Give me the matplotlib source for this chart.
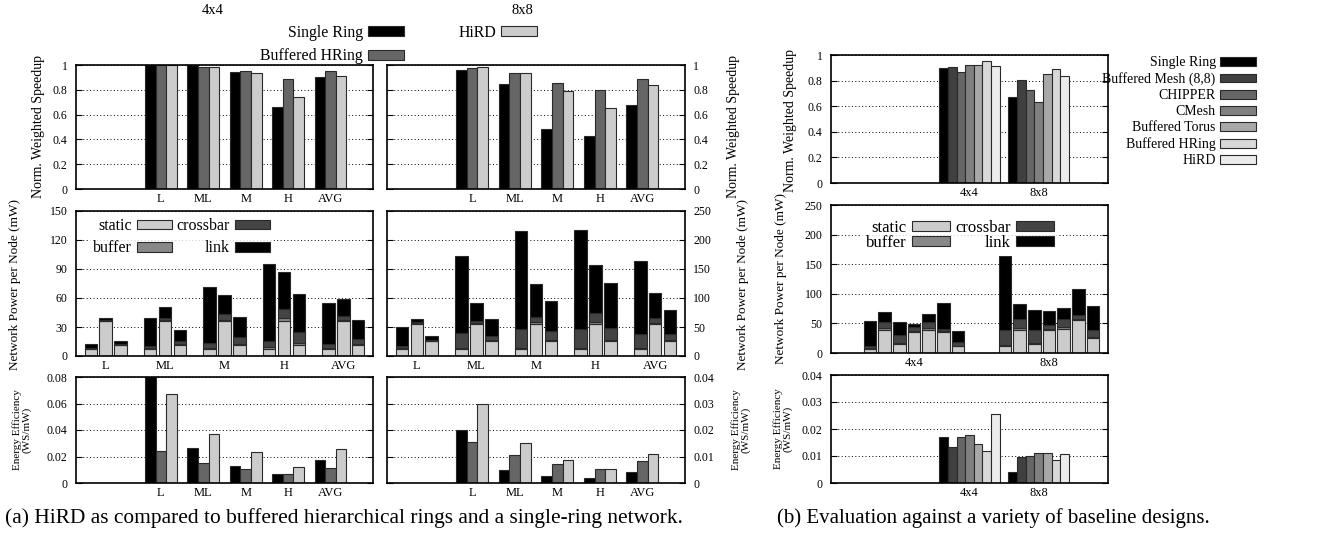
import matplotlib
matplotlib.use('Agg')
import matplotlib.pyplot as plt
from matplotlib.patches import Patch
from matplotlib.ticker import FuncFormatter, MultipleLocator
import numpy as np

plt.rcParams['font.family'] = ['Liberation Serif', 'DejaVu Serif']

# ---------------- data ----------------
workloads = ['L', 'ML', 'M', 'H', 'AVG']
designs_a = ['Single Ring', 'Buffered HRing', 'HiRD']
colors_a = ['#000000', '#666666', '#cccccc']

ws_4x4_single = [1.0, 1.0, 0.946, 0.66, 0.906]
ws_4x4_bhring = [1.0, 0.981, 0.954, 0.885, 0.954]
ws_4x4_hird = [1.0, 0.981, 0.933, 0.74, 0.911]
ws_8x8_single = [0.96, 0.845, 0.483, 0.429, 0.678]
ws_8x8_bhring = [0.976, 0.933, 0.853, 0.799, 0.89]
ws_8x8_hird = [0.981, 0.933, 0.794, 0.651, 0.839]

components = ['static', 'buffer', 'crossbar', 'link']
comp_colors = ['#cccccc', '#888888', '#444444', '#000000']

# power 4x4 (static, buffer, crossbar, link) per workload
p4_single_static = [7.6, 7.6, 7.6, 7.6, 7.6]
p4_single_buffer = [0.3, 0.8, 1.0, 1.2, 1.0]
p4_single_xbar = [0.5, 1.5, 4.5, 6.8, 3.5]
p4_single_link = [4.4, 29.4, 57.9, 79.2, 42.4]
p4_bhring_static = [36, 36, 36, 36, 36]
p4_bhring_buffer = [0.5, 1.2, 1.5, 3.0, 1.5]
p4_bhring_xbar = [1.0, 2.4, 5.5, 10.0, 3.8]
p4_bhring_link = [1.8, 10.7, 19.8, 38.0, 18.0]
p4_hird_static = [11.4, 11.4, 11.4, 11.4, 11.4]
p4_hird_buffer = [0.3, 1.0, 1.2, 1.6, 1.2]
p4_hird_xbar = [0.5, 3.5, 7.0, 12.3, 5.0]
p4_hird_link = [3.0, 11.3, 20.7, 39.2, 19.3]

p8_single_static = [12, 12, 12, 12, 12]
p8_single_buffer = [1.0, 1.5, 1.5, 1.5, 1.5]
p8_single_xbar = [4.8, 26.7, 33.0, 33.0, 24.5]
p8_single_link = [31.6, 132.8, 169.0, 171.5, 126.0]
p8_bhring_static = [55, 55, 55, 55, 55]
p8_bhring_buffer = [1.5, 2.0, 3.0, 3.5, 2.5]
p8_bhring_xbar = [1.5, 4.0, 9.5, 15.0, 7.5]
p8_bhring_link = [5.8, 31.0, 56.0, 83.0, 43.5]
p8_hird_static = [25.5, 25.5, 25.5, 25.5, 25.5]
p8_hird_buffer = [0.5, 1.5, 1.5, 1.5, 1.5]
p8_hird_xbar = [1.5, 7.0, 16.0, 20.5, 11.5]
p8_hird_link = [7.0, 29.0, 52.0, 79.0, 41.0]

ee_4x4_single = [0.08, 0.02625, 0.013, 0.007, 0.017]
ee_4x4_bhring = [0.02425, 0.015, 0.0105, 0.00675, 0.0115]
ee_4x4_hird = [0.0675, 0.037, 0.0235, 0.012, 0.0255]
ee_8x8_single = [0.02, 0.005, 0.0025, 0.002, 0.00425]
ee_8x8_bhring = [0.0156, 0.0104, 0.007, 0.00525, 0.0084]
ee_8x8_hird = [0.03, 0.015, 0.00875, 0.00525, 0.0109]

# panel (b)
sizes_b = ['4x4', '8x8']
designs_b = ['Single Ring', 'Buffered Mesh (8,8)', 'CHIPPER', 'CMesh',
             'Buffered Torus', 'Buffered HRing', 'HiRD']
colors_b = ['#000000', '#404040', '#666666', '#808080', '#a8a8a8', '#d8d8d8', '#ececec']
ws_b_4x4 = [0.9, 0.906, 0.869, 0.924, 0.924, 0.953, 0.911]
ws_b_8x8 = [0.675, 0.806, 0.724, 0.633, 0.85, 0.887, 0.835]
pb4_static = [7.6, 38.4, 16.0, 35.5, 39.6, 35.0, 11.4]
pb4_buffer = [1.0, 3.0, 1.5, 2.5, 3.0, 1.5, 1.2]
pb4_xbar = [3.5, 11.0, 13.5, 5.5, 10.0, 3.5, 5.4]
pb4_link = [42.4, 17.0, 21.0, 6.2, 13.0, 44.6, 19.2]
pb8_static = [12.4, 39.6, 16.0, 38.4, 40.6, 55.0, 25.5]
pb8_buffer = [1.5, 3.0, 1.5, 2.5, 3.0, 2.5, 1.5]
pb8_xbar = [24.5, 15.5, 21.0, 6.0, 14.4, 7.0, 11.5]
pb8_link = [125.6, 24.3, 33.8, 24.1, 18.8, 44.0, 41.0]
ee_b_4x4 = [0.017, 0.0133, 0.0172, 0.0176, 0.0146, 0.0117, 0.0255]
ee_b_8x8 = [0.0042, 0.0098, 0.0101, 0.0111, 0.0112, 0.0085, 0.0108]

# ---------------- figure ----------------
W, H = 1325, 539
fig = plt.figure(figsize=(W / 100, H / 100), dpi=100)

def ax_px(x0, y0, x1, y1):
    return fig.add_axes([x0 / W, 1 - y1 / H, (x1 - x0) / W, (y1 - y0) / H])

EC = '#2a2a2a'
LW = 0.8

def gfmt(v, pos):
    return ('%g' % round(v, 6))

def style(ax, side, ymax, ystep, xpad=3):
    ax.set_ylim(0, ymax)
    ax.yaxis.set_major_locator(MultipleLocator(ystep))
    ax.yaxis.set_major_formatter(FuncFormatter(gfmt))
    ax.tick_params(axis='y', direction='in', length=4, width=0.8, left=True, right=True,
                   labelleft=(side == 'left'), labelright=(side == 'right'),
                   labelsize=8.5, pad=6)
    ax.tick_params(axis='x', length=0, labelsize=9, pad=xpad)
    for s in ax.spines.values():
        s.set_linewidth(1.2)
    ax.yaxis.grid(True, linestyle=(0, (1, 2.5)), color='black', lw=0.7)
    ax.set_axisbelow(True)

def grouped(ax, series, colors, positions, width, pitch):
    n = len(series)
    pos = np.asarray(positions, dtype=float)
    for j, (vals, c) in enumerate(zip(series, colors)):
        ax.bar(pos + (j - (n - 1) / 2) * pitch, vals, width, color=c,
               edgecolor=EC, linewidth=LW, zorder=2)

def stacked(ax, stacks, positions, width, pitch):
    n = len(stacks)
    pos = np.asarray(positions, dtype=float)
    for j, comps in enumerate(stacks):
        bottom = np.zeros(len(pos))
        for vals, c in zip(comps, comp_colors):
            v = np.asarray(vals, dtype=float)
            ax.bar(pos + (j - (n - 1) / 2) * pitch, v, width, bottom=bottom,
                   color=c, edgecolor=EC, linewidth=LW, zorder=2)
            bottom = bottom + v

def power_legend(ax, anchor, fs, spacing, hl):
    handles = [Patch(facecolor=c, edgecolor=EC, linewidth=LW) for c in comp_colors]
    leg = ax.legend(handles, components, ncol=2, markerfirst=False, loc='upper left',
                    bbox_to_anchor=anchor, bbox_transform=fig.transFigure,
                    fontsize=fs, handlelength=hl, handleheight=0.55,
                    handletextpad=0.3, columnspacing=0.3, labelspacing=spacing,
                    borderpad=0.25, borderaxespad=0, frameon=True, fancybox=False)
    leg.get_frame().set_facecolor('white')
    leg.get_frame().set_edgecolor('none')
    leg.set_zorder(5)

# ---- panel (a) ----
XA = [(76, 373), (387, 685)]
top_pos = np.arange(2, 7)
mid_pos = np.arange(0, 5)

ws_sets = [[ws_4x4_single, ws_4x4_bhring, ws_4x4_hird],
           [ws_8x8_single, ws_8x8_bhring, ws_8x8_hird]]
pw_sets = [[[p4_single_static, p4_single_buffer, p4_single_xbar, p4_single_link],
            [p4_bhring_static, p4_bhring_buffer, p4_bhring_xbar, p4_bhring_link],
            [p4_hird_static, p4_hird_buffer, p4_hird_xbar, p4_hird_link]],
           [[p8_single_static, p8_single_buffer, p8_single_xbar, p8_single_link],
            [p8_bhring_static, p8_bhring_buffer, p8_bhring_xbar, p8_bhring_link],
            [p8_hird_static, p8_hird_buffer, p8_hird_xbar, p8_hird_link]]]
ee_sets = [[ee_4x4_single, ee_4x4_bhring, ee_4x4_hird],
           [ee_8x8_single, ee_8x8_bhring, ee_8x8_hird]]
pw_max = [(150, 30), (250, 50)]
ee_max = [(0.08, 0.02), (0.04, 0.01)]

for k, (x0, x1) in enumerate(XA):
    side = 'left' if k == 0 else 'right'
    ax = ax_px(x0, 65, x1, 189)
    grouped(ax, ws_sets[k], colors_a, top_pos, 0.25, 0.25)
    ax.set_xlim(0, 7)
    ax.set_xticks(top_pos)
    ax.set_xticklabels(workloads)
    style(ax, side, 1.0, 0.2)

    ax = ax_px(x0, 211, x1, 356)
    stacked(ax, pw_sets[k], mid_pos, 0.21, 0.25)
    ax.set_xlim(-0.5, 4.5)
    ax.set_xticks(mid_pos)
    ax.set_xticklabels(workloads)
    style(ax, side, pw_max[k][0], pw_max[k][1])
    if k == 0:
        power_legend(ax, (89 / W, 1 - 214 / H), 11.5, 0.4, 2.2)

    ax = ax_px(x0, 377, x1, 483)
    grouped(ax, ee_sets[k], colors_a, top_pos, 0.25, 0.25)
    ax.set_xlim(0, 7)
    ax.set_xticks(top_pos)
    ax.set_xticklabels(workloads)
    style(ax, side, ee_max[k][0], ee_max[k][1])

fig.text(213 / W, 1 - 10 / H, '4x4', ha='center', va='center', fontsize=10.5)
fig.text(522 / W, 1 - 10 / H, '8x8', ha='center', va='center', fontsize=10.5)

handles_a = [Patch(facecolor=c, edgecolor=EC, linewidth=LW) for c in colors_a]
fig.legend(handles_a, designs_a, ncol=2, markerfirst=False, loc='upper right',
           bbox_to_anchor=(537 / W, 1 - 25 / H), fontsize=11.4, frameon=False,
           handlelength=2.3, handleheight=0.6, handletextpad=0.3,
           columnspacing=3.4, labelspacing=0.45, borderpad=0, borderaxespad=0)

ylab_kw = dict(rotation=90, ha='center', va='center')
fig.text(39 / W, 1 - 127 / H, 'Norm. Weighted Speedup', fontsize=10, **ylab_kw)
fig.text(15 / W, 1 - 284 / H, 'Network Power per Node (mW)', fontsize=9.5, **ylab_kw)
fig.text(22 / W, 1 - 430 / H, 'Energy Efficiency\n(WS/mW)', fontsize=8, linespacing=0.9, **ylab_kw)
fig.text(733 / W, 1 - 127 / H, 'Norm. Weighted Speedup', fontsize=10, **ylab_kw)
fig.text(743 / W, 1 - 284 / H, 'Network Power per Node (mW)', fontsize=9.5, **ylab_kw)
fig.text(741 / W, 1 - 430 / H, 'Energy Efficiency\n(WS/mW)', fontsize=8, linespacing=0.9, **ylab_kw)

fig.text(5 / W, 1 - 518 / H,
         '(a) HiRD as compared to buffered hierarchical rings and a single-ring network.',
         ha='left', va='center', fontsize=15.4)

# ---- panel (b) ----
bx0, bx1 = 831, 1108
ax = ax_px(bx0, 55, bx1, 183)
grouped(ax, [[a, b] for a, b in zip(ws_b_4x4, ws_b_8x8)], colors_b, [2, 3], 0.125, 0.125)
ax.set_xlim(0, 4)
ax.set_xticks([2, 3])
ax.set_xticklabels(sizes_b)
style(ax, 'left', 1.0, 0.2)

ax = ax_px(bx0, 205, bx1, 353)
stacks_b = [[[pb4_static[j], pb8_static[j]], [pb4_buffer[j], pb8_buffer[j]],
             [pb4_xbar[j], pb8_xbar[j]], [pb4_link[j], pb8_link[j]]] for j in range(7)]
stacked(ax, stacks_b, [0, 1], 0.093, 0.109)
ax.set_xlim(-0.615, 1.437)
ax.set_xticks([0, 1])
ax.set_xticklabels(sizes_b)
style(ax, 'left', 250, 50)
power_legend(ax, (862 / W, 1 - 216 / H), 12, -0.05, 2.3)

ax = ax_px(bx0, 375, bx1, 483)
grouped(ax, [[a, b] for a, b in zip(ee_b_4x4, ee_b_8x8)], colors_b, [2, 3], 0.125, 0.125)
ax.set_xlim(0, 4)
ax.set_xticks([2, 3])
ax.set_xticklabels(sizes_b)
style(ax, 'left', 0.04, 0.01)

handles_b = [Patch(facecolor=c, edgecolor=EC, linewidth=LW) for c in colors_b]
fig.legend(handles_b, designs_b, ncol=1, markerfirst=False, loc='upper right',
           bbox_to_anchor=(1256 / W, 1 - 56 / H), fontsize=10, frameon=False,
           handlelength=2.6, handleheight=0.6, handletextpad=0.3,
           labelspacing=0.22, borderpad=0, borderaxespad=0)

fig.text(791 / W, 1 - 120 / H, 'Norm. Weighted Speedup', fontsize=10, **ylab_kw)
fig.text(781 / W, 1 - 279 / H, 'Network Power per Node (mW)', fontsize=9.5, **ylab_kw)
fig.text(783 / W, 1 - 429 / H, 'Energy Efficiency\n(WS/mW)', fontsize=8, linespacing=0.9, **ylab_kw)

fig.text(777 / W, 1 - 518 / H, '(b) Evaluation against a variety of baseline designs.',
         ha='left', va='center', fontsize=15.0)

fig.savefig('out.png', dpi=100)
